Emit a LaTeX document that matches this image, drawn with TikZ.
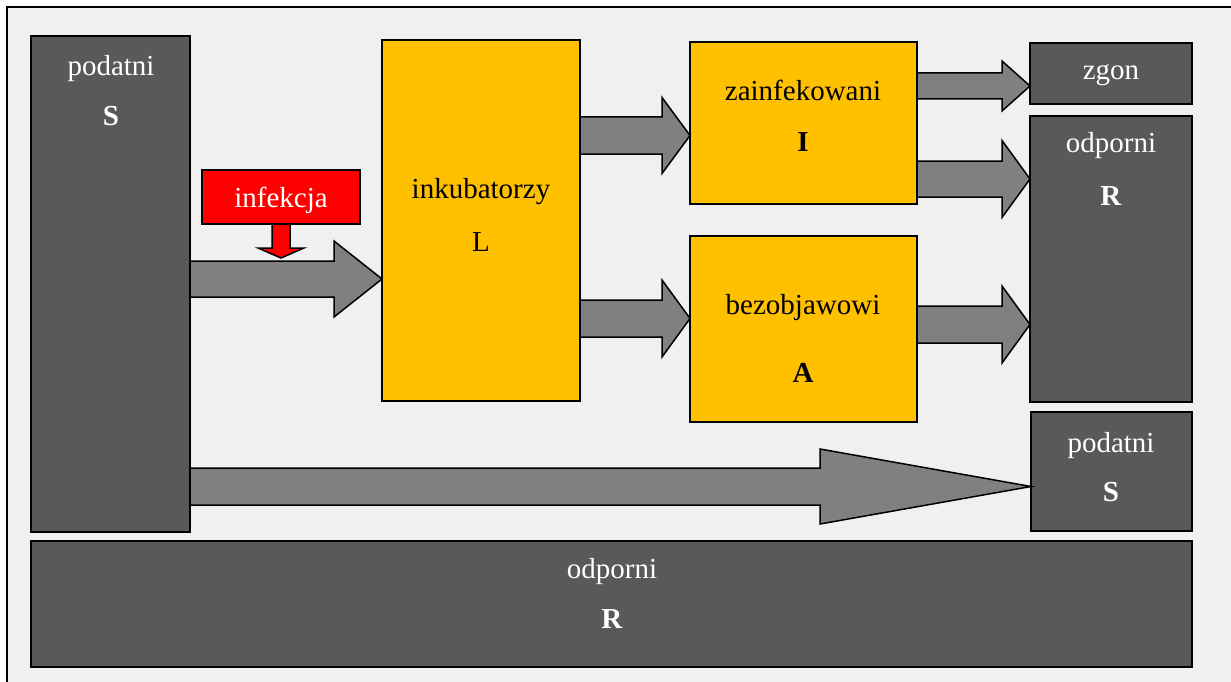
\documentclass[tikz,border=0pt]{standalone}
\usepackage{fontspec}
\setmainfont{Liberation Serif}
\usetikzlibrary{calc}
\definecolor{bg}{HTML}{F0F0F0}
\definecolor{dk}{HTML}{595959}
\definecolor{yel}{HTML}{FFC000}
\definecolor{ag}{HTML}{808080}
\tikzset{
  gbox/.style={draw=black, line width=1.5pt, fill=dk, anchor=north west, inner sep=0pt, outer sep=0pt},
  ybox/.style={gbox, fill=yel},
  rbox/.style={gbox, fill=red},
  wt/.style={text=white, font=\fontsize{29}{34}\selectfont, inner sep=0pt, anchor=base},
  bt/.style={wt, text=black},
  arr/.style={draw=black, line width=1.5pt, fill=ag, line join=miter},
  rarr/.style={arr, fill=red},
}
% #1 from node, #2 to node, #3 centre y, #4 shaft half, #5 head half, #6 head length
\newcommand\blockarrow[6]{%
  \draw[arr] let \p1=(#1.east), \p2=(#2.west) in
    (\x1,#3-#4) -- (\x2-#6,#3-#4) -- (\x2-#6,#3-#5) -- (\x2,#3)
    -- (\x2-#6,#3+#5) -- (\x2-#6,#3+#4) -- (\x1,#3+#4) -- cycle;}
\begin{document}
\begin{tikzpicture}[x=1pt,y=-1pt]
\useasboundingbox (0,0) rectangle (1231,682);
\fill[white] (0,0) rectangle (1231,682);
\fill[bg] (7,7) rectangle (1240,690);
\draw[line width=2pt] (7,690) -- (7,7) -- (1240,7);

% boxes
\node[gbox, minimum width=159pt, minimum height=496pt] (S) at (31,36) {};
\node[rbox, minimum width=158pt, minimum height=54pt] (inf) at (202,170) {};
\node[ybox, minimum width=198pt, minimum height=361pt] (L) at (382,40) {};
\node[ybox, minimum width=227pt, minimum height=162pt] (I) at (690,42) {};
\node[ybox, minimum width=227pt, minimum height=186pt] (A) at (690,236) {};
\node[gbox, minimum width=162pt, minimum height=61pt] (Z) at (1030,43) {};
\node[gbox, minimum width=162pt, minimum height=286pt] (R) at (1030,116) {};
\node[gbox, minimum width=161pt, minimum height=119pt] (S2) at (1031,412) {};
\node[gbox, minimum width=1161pt, minimum height=126pt] (R2) at (31,541) {};

% arrows
\blockarrow{S}{L}{279}{18}{38}{48}
\blockarrow{L}{I}{135.5}{18.5}{38}{28}
\blockarrow{L}{A}{318.5}{18.5}{38.5}{28}
\blockarrow{I}{Z}{86}{13}{25}{28}
\blockarrow{I}{R}{179}{18}{38.5}{28}
\blockarrow{A}{R}{324.5}{18.5}{38.5}{28}
\blockarrow{S}{S2}{486.5}{18.5}{37.5}{211}
\draw[rarr] let \p1=(inf.south) in
  (\x1-9,224) -- (\x1-9,248) -- (\x1-23,248) -- (\x1,258) -- (\x1+23,248)
  -- (\x1+9,248) -- (\x1+9,224) -- cycle;

% texts
\node[wt] (tS1) at (111,76) {podatni};
\node[wt] (tS2) at (111,126) {\textbf{S}};
\node[wt] (tinf) at (281,207) {infekcja};
\node[bt] (tL1) at (481,198) {inkubatorzy};
\node[bt] (tL2) at (481,251) {L};
\node[bt] (tI1) at (803,101) {zainfekowani};
\node[bt] (tI2) at (803,151) {\textbf{I}};
\node[bt] (tA1) at (803,314) {bezobjawowi};
\node[bt] (tA2) at (803,382) {\textbf{A}};
\node[wt] (tZ) at (1111,80) {zgon};
\node[wt] (tR1) at (1111,153) {odporni};
\node[wt] (tR2) at (1111,205) {\textbf{R}};
\node[wt] (tS21) at (1111,452) {podatni};
\node[wt] (tS22) at (1111,501) {\textbf{S}};
\node[wt] (tR21) at (612,578) {odporni};
\node[wt] (tR22) at (612,628) {\textbf{R}};
\end{tikzpicture}
\end{document}
